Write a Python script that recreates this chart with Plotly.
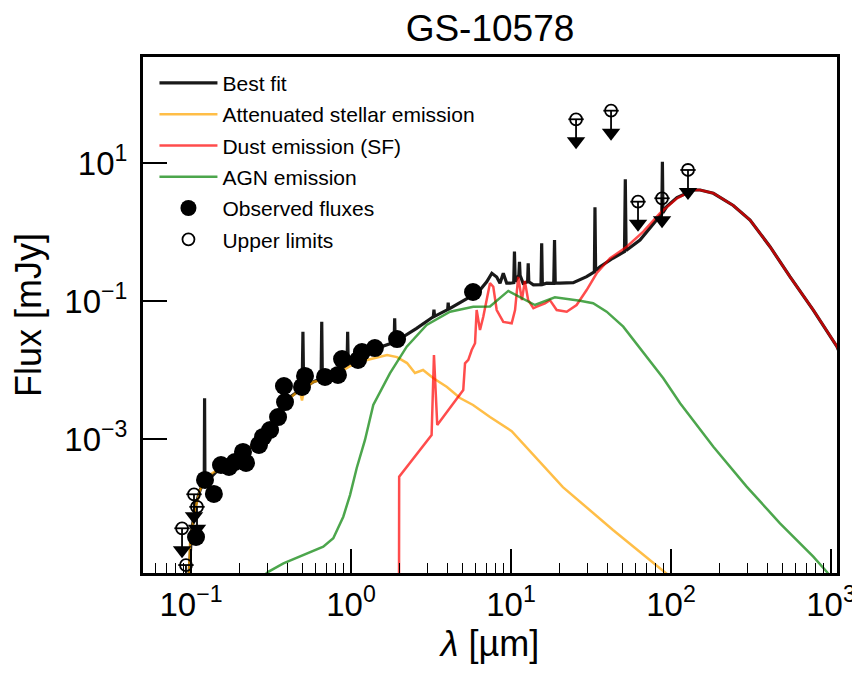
import plotly.graph_objects as go

FONT = "Liberation Sans, Arial, Helvetica, sans-serif"

# ---------------- data (wavelength in micron, flux in mJy) ----------------
bestfit_wl = [0.0965, 0.101, 0.107, 0.114, 0.1196, 0.1210, 0.1216, 0.1222, 0.1315, 0.152,
              0.202, 0.27, 0.335, 0.416, 0.48, 0.495, 0.5007, 0.506, 0.579, 0.650,
              0.6563, 0.662, 0.739, 0.917, 0.945, 0.953, 0.961, 1.106, 1.41, 1.86,
              1.875, 1.89, 1.97, 2.57, 3.27, 3.30, 3.33, 4.02, 4.05, 4.08,
              4.16, 5.54, 6.4, 7.05, 7.59, 8.14, 8.54, 8.95, 9.4, 9.86,
              10.40, 10.51, 10.62, 11.2, 11.3, 11.4, 11.9, 12.7, 12.81, 12.92,
              13.8, 15.4, 15.55, 15.7, 16.7, 18.5, 18.71, 18.9, 20.2, 24.5,
              29.7, 33.2, 33.48, 33.8, 36.0, 43.3, 51.2, 51.81, 52.4, 64.0,
              77.5, 87.6, 88.36, 89.1, 94.0, 109.0, 138.0, 152.0, 184.0, 245.0,
              312.0, 416.0, 554.0, 775.0, 1090.0, 1200.0]
bestfit_flux = [8e-6, 4.8e-5, 1.1e-4, 1.82e-4, 2.38e-4, 2.5e-4, 3.9e-3, 2.6e-4, 2.72e-4, 3.8e-4,
                5.86e-4, 9.3e-4, 1.88e-3, 4.06e-3, 5.13e-3, 5.3e-3, 0.0359, 5.4e-3, 6.7e-3, 7.5e-3,
                0.050, 7.6e-3, 8.47e-3, 0.0114, 0.0118, 0.0359, 0.0120, 0.0149, 0.0201, 0.0252,
                0.0561, 0.0254, 0.0272, 0.0402, 0.0592, 0.075, 0.060, 0.075, 0.095, 0.076,
                0.0784, 0.115, 0.144, 0.19, 0.252, 0.223, 0.181, 0.252, 0.181, 0.181,
                0.185, 0.519, 0.19, 0.238, 0.371, 0.235, 0.181, 0.19, 0.352, 0.19,
                0.171, 0.172, 0.686, 0.173, 0.181, 0.180, 0.765, 0.182, 0.181, 0.184,
                0.225, 0.265, 2.28, 0.275, 0.314, 0.416, 0.52, 5.8, 0.54, 0.765,
                1.34, 1.85, 10.4, 1.9, 2.33, 3.15, 4.06, 4.06, 3.64, 2.42,
                1.49, 0.612, 0.225, 0.074, 0.0218, 0.013]

stellar_wl = [0.0960, 0.0986, 0.106, 0.114, 0.122, 0.152, 0.202, 0.27, 0.335, 0.416,
              0.45, 0.48, 0.494, 0.51, 0.579, 0.739, 0.986, 1.26, 1.68, 1.94,
              2.24, 2.51, 2.82, 3.26, 3.98, 4.8, 5.79, 7.39, 10.1, 21.1,
              43.4, 91.7, 150.0]
stellar_flux = [5e-6, 3.1e-5, 9.35e-5, 1.82e-4, 2.72e-4, 3.8e-4, 5.86e-4, 9.06e-4, 1.88e-3, 3.93e-3,
                4.6e-3, 4.9e-3, 3.6e-3, 5.2e-3, 6.7e-3, 7.65e-3, 0.0114, 0.01396, 0.0165, 0.0154,
                0.0126, 0.00906, 0.0100, 0.00765, 0.00568, 0.00393, 0.00311, 0.00208, 0.0013, 2.01e-4,
                4.8e-5, 1.14e-5, 4.6e-6]

dust_wl = [1.99, 2.0, 3.19, 3.30, 3.46, 4.69, 5.03, 5.16, 5.41, 5.68,
           5.96, 6.1, 6.4, 6.71, 7.05, 7.39, 7.75, 8.14, 8.95, 10.1,
           10.6, 11.1, 11.7, 12.2, 12.8, 13.8, 14.5, 16.3, 17.5, 19.3,
           22.3, 25.7, 29.7, 34.3, 41.6, 52.9, 67.1, 85.3, 109.0, 138.0,
           152.0, 184.0, 245.0, 312.0, 416.0, 554.0, 775.0, 1090.0, 1200.0]
dust_flux = [1e-7, 2.85e-4, 1.14e-3, 0.0165, 1.6e-3, 4.1e-3, 5.13e-3, 0.0125, 0.014, 0.0195,
             0.0244, 0.074, 0.038, 0.0592, 0.103, 0.181, 0.161, 0.074, 0.0497, 0.0475,
             0.074, 0.223, 0.103, 0.195, 0.103, 0.0784, 0.0827, 0.0926, 0.103, 0.074,
             0.070, 0.0875, 0.144, 0.252, 0.416, 0.612, 1.01, 1.87, 3.08, 4.06,
             4.06, 3.64, 2.42, 1.49, 0.612, 0.225, 0.074, 0.0218, 0.013]

agn_wl = [0.25, 0.304, 0.378, 0.503, 0.671, 0.775, 0.895, 0.986, 1.086, 1.223,
          1.378, 1.75, 2.23, 2.97, 4.16, 5.81, 7.39, 9.62, 12.2, 14.1,
          18.8, 27.0, 32.6, 39.6, 50.3, 68.8, 89.5, 114.0, 184.0, 297.0,
          480.0, 775.0, 940.0, 1150.0]
agn_flux = [8e-6, 1.19e-5, 1.58e-5, 2.08e-5, 2.75e-5, 3.64e-5, 7.48e-5, 1.54e-4, 3.8e-4, 9.68e-4,
            3.11e-3, 8.95e-3, 0.0218, 0.0449, 0.070, 0.0827, 0.0832, 0.140, 0.103, 0.0875,
            0.113, 0.101, 0.0926, 0.070, 0.0425, 0.0165, 7.58e-3, 3.29e-3, 7.73e-4, 2.04e-4,
            6.0e-5, 1.97e-5, 1.19e-5, 6.5e-6]

obs_wl = [0.1075, 0.1223, 0.139, 0.154, 0.1728, 0.188, 0.2113, 0.2208, 0.266, 0.282,
          0.312, 0.35, 0.387, 0.381, 0.494, 0.516, 0.688, 0.829, 0.879, 1.106,
          1.17, 1.41, 1.94, 5.79]
obs_flux = [3.8e-5, 2.55e-4, 1.6e-4, 4.2e-4, 3.93e-4, 4.64e-4, 6.5e-4, 4.5e-4, 8.2e-4, 1.07e-3,
            1.35e-3, 2.08e-3, 3.43e-3, 5.86e-3, 5.68e-3, 8.19e-3, 7.93e-3, 8.47e-3, 0.0144, 0.01396,
            0.0182, 0.0208, 0.0281, 0.135]

ulim_wl = [0.0879, 0.093, 0.1044, 0.109, 25.5, 42.2, 62.2, 87.9, 127.7]
ulim_flux = [5.08e-5, 1.49e-5, 1.58e-4, 1.04e-4, 43.0, 57.3, 2.75, 3.08, 7.92]

x_tickvals = [0.1, 1, 10, 100, 1000]
x_ticktext = ["10<sup>−1</sup>", "10<sup>0</sup>", "10<sup>1</sup>", "10<sup>2</sup>", "10<sup>3</sup>"]
y_tickvals = [1e-3, 1e-1, 1e1]
y_ticktext = ["10<sup>−3</sup>", "10<sup>−1</sup>", "10<sup>1</sup>"]

# ---------------- figure ----------------
ARROW = 0.48  # arrow end as fraction of the limit value
arrow_end = [f * ARROW for f in ulim_flux]
arrow_len = [f - e for f, e in zip(ulim_flux, arrow_end)]

fig = go.Figure()
fig.add_trace(go.Scatter(x=bestfit_wl, y=bestfit_flux, mode="lines", name="Best fit",
                         line=dict(color="rgba(0,0,0,0.9)", width=3.2), legendgroup="a"))
fig.add_trace(go.Scatter(x=stellar_wl, y=stellar_flux, mode="lines", name="Attenuated stellar emission",
                         line=dict(color="rgba(255,165,0,0.72)", width=2.5), legendgroup="b"))
fig.add_trace(go.Scatter(x=dust_wl, y=dust_flux, mode="lines", name="Dust emission (SF)",
                         line=dict(color="rgba(255,0,0,0.7)", width=2.5), legendgroup="c"))
fig.add_trace(go.Scatter(x=agn_wl, y=agn_flux, mode="lines", name="AGN emission",
                         line=dict(color="rgba(0,128,0,0.7)", width=2.5), legendgroup="d"))
fig.add_trace(go.Scatter(x=obs_wl, y=obs_flux, mode="markers", name="Observed fluxes",
                         marker=dict(color="black", size=18, line=dict(width=0)), legendgroup="e"))
fig.add_trace(go.Scatter(x=ulim_wl, y=arrow_end, mode="markers", showlegend=False,
                         marker=dict(symbol="triangle-down", color="black", size=16, line=dict(width=0)),
                         legendgroup="f"))
fig.add_trace(go.Scatter(x=ulim_wl, y=ulim_flux, mode="markers", name="Upper limits",
                         marker=dict(symbol="circle-open", color="black", size=12, line=dict(width=1.8)),
                         error_y=dict(type="data", symmetric=False, array=[0] * len(ulim_flux),
                                      arrayminus=arrow_len, color="black", thickness=1.8, width=0),
                         legendgroup="f"))
fig.add_trace(go.Scatter(x=ulim_wl, y=ulim_flux, mode="markers", showlegend=False,
                         marker=dict(symbol="line-ew-open", color="black", size=11, line=dict(width=1.8, color="black")),
                         legendgroup="f"))

# the page body adds an 8 px offset, so the figure is sized/margined to compensate
W, H = 852, 666
fig.update_layout(
    width=W, height=H,
    margin=dict(l=135, r=23, t=49, b=101, autoexpand=False),
    paper_bgcolor="white", plot_bgcolor="white",
    font=dict(family=FONT, color="black"),
    title=dict(text="GS-10578", x=482 / W, xanchor="center", y=1 - 20 / H, yanchor="middle",
               yref="container", font=dict(size=37, family=FONT, color="black")),
    showlegend=True,
    legend=dict(x=0.0165, y=0.989, xanchor="left", yanchor="top", bgcolor="rgba(0,0,0,0)",
                font=dict(size=21, family=FONT, color="black"), tracegroupgap=1,
                itemwidth=58),
)
fig.update_xaxes(
    type="log", range=[-1.3, 3.0375], automargin=False,
    tickmode="array", tickvals=x_tickvals, ticktext=x_ticktext,
    ticks="inside", ticklen=24, tickwidth=1.6, tickcolor="black",
    minor=dict(ticks="inside", ticklen=10, tickwidth=1.3, tickcolor="black",
               tickmode="array",
               tickvals=[0.06, 0.07, 0.08, 0.09, 0.2, 0.3, 0.4, 0.5, 0.6, 0.7, 0.8, 0.9,
                         2, 3, 4, 5, 6, 7, 8, 9, 20, 30, 40, 50, 60, 70, 80, 90,
                         200, 300, 400, 500, 600, 700, 800, 900]),
    showline=True, linewidth=3, linecolor="black", mirror=True, showgrid=False, zeroline=False,
    tickfont=dict(size=33, family=FONT, color="black"),
    title=dict(text="<i>λ</i> [µm]", font=dict(size=36, family=FONT, color="black"), standoff=8),
)
fig.update_yaxes(
    type="log", range=[-4.942, 2.536], automargin=False,
    tickmode="array", tickvals=y_tickvals, ticktext=y_ticktext,
    ticks="inside", ticklen=24, tickwidth=1.6, tickcolor="black",
    showline=True, linewidth=3, linecolor="black", mirror=True, showgrid=False, zeroline=False,
    tickfont=dict(size=33, family=FONT, color="black"),
    title=dict(text="Flux [mJy]", font=dict(size=36, family=FONT, color="black"), standoff=20),
    ticklabelstandoff=6,
)

fig.write_html("out.html")
